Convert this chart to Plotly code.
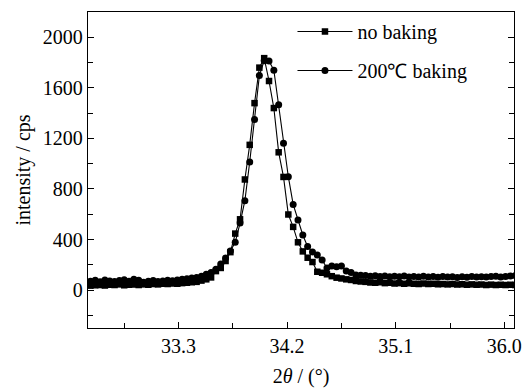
import plotly.graph_objects as go

two_theta = [32.57, 32.61, 32.65, 32.69, 32.73, 32.77, 32.81, 32.85, 32.89, 32.93,
             32.97, 33.01, 33.05, 33.09, 33.13, 33.17, 33.21, 33.25, 33.29, 33.33,
             33.37, 33.41, 33.45, 33.49, 33.53, 33.57, 33.61, 33.65, 33.69, 33.73,
             33.77, 33.81, 33.85, 33.89, 33.93, 33.97, 34.01, 34.05, 34.09, 34.13,
             34.17, 34.21, 34.25, 34.29, 34.33, 34.37, 34.41, 34.45, 34.49, 34.53,
             34.57, 34.61, 34.65, 34.69, 34.73, 34.77, 34.81, 34.85, 34.89, 34.93,
             34.97, 35.01, 35.05, 35.09, 35.13, 35.17, 35.21, 35.25, 35.29, 35.33,
             35.37, 35.41, 35.45, 35.49, 35.53, 35.57, 35.61, 35.65, 35.69, 35.73,
             35.77, 35.81, 35.85, 35.89, 35.93, 35.97, 36.01, 36.05, 36.09]

no_baking = [35, 38, 40, 36, 42, 40, 45, 38, 42, 44, 40, 45, 42, 48, 45, 50, 48, 52, 50, 55,
             58, 62, 65, 75,
             85, 100, 150, 175, 230, 300, 447, 560, 875, 1149, 1479, 1760, 1835, 1654, 1440, 1090,
             895, 598, 500, 378, 306, 256, 222, 145, 137, 125, 110, 98, 92, 85, 80, 72,
             68, 65, 60, 58, 62, 55, 58, 52, 55, 50, 54, 50, 48, 52, 48, 50, 46, 48, 45, 48,
             44, 46, 42, 45, 42, 44, 40, 43, 40, 42, 40, 42, 40]

baking_200 = [70, 78, 65, 80, 72, 68, 75, 82, 70, 85, 78, 62, 70, 75, 68, 72, 78, 74, 80, 85,
              90, 95, 100, 110,
              125, 140, 165, 206, 254, 310, 378, 530, 707, 1013, 1350, 1697, 1815, 1812, 1739, 1466,
              1162, 897, 678, 555, 436, 344, 302, 278, 238, 175, 190, 185, 190, 150, 140, 120,
              118, 115, 110, 114, 108, 112, 106, 110, 105, 112, 104, 108, 103, 110, 104, 107,
              102, 108, 103, 106, 100, 105, 102, 108, 103, 106, 104, 108, 110, 104, 108, 112, 115]

x_tickvals = [33.3, 34.2, 35.1, 36.0]
x_ticktext = ["33.3", "34.2", "35.1", "36.0"]
y_tickvals = [0, 400, 800, 1200, 1600, 2000]

font_family = "Liberation Serif, Times New Roman, serif"

fig = go.Figure()
fig.add_trace(go.Scatter(
    x=two_theta, y=no_baking, mode="lines+markers", name="no baking",
    legendgroup="a",
    line=dict(color="black", width=1.1),
    marker=dict(symbol="square", size=6.5, color="black"),
))
fig.add_trace(go.Scatter(
    x=two_theta, y=baking_200, mode="lines+markers", name="200℃ baking",
    legendgroup="b",
    line=dict(color="black", width=1.1),
    marker=dict(symbol="circle", size=7, color="black"),
))

axis_common = dict(
    showline=True, linecolor="black", linewidth=1.3, showgrid=False, zeroline=False,
    ticks="inside", ticklen=6, tickwidth=1.2, tickcolor="black",
    tickfont=dict(family=font_family, size=20, color="black"),
    automargin=False,
)

fig.update_xaxes(
    **axis_common, range=[32.55, 36.08], tickvals=x_tickvals, ticktext=x_ticktext,
    mirror=True,
    minor=dict(ticks="inside", ticklen=5, tickwidth=1.2, tickcolor="black",
               tick0=32.85, dtick=0.45),
    title=dict(text="2<i>θ</i> / (°)", font=dict(family=font_family, size=20, color="black"),
               standoff=12),
)
fig.update_yaxes(
    **axis_common, range=[-300, 2200], tickvals=y_tickvals, mirror="ticks",
    minor=dict(ticks="inside", ticklen=5, tickwidth=1.2, tickcolor="black",
               tick0=-200, dtick=400),
    title=dict(text="intensity / cps", font=dict(family=font_family, size=20, color="black"),
               standoff=6),
)

fig.update_layout(
    width=524, height=389,
    margin=dict(l=88, r=10, t=12, b=61),
    paper_bgcolor="white", plot_bgcolor="white",
    showlegend=True,
    legend=dict(x=0.48, y=1.0, xanchor="left", yanchor="top",
                bgcolor="rgba(0,0,0,0)", borderwidth=0, itemwidth=55,
                traceorder="grouped", tracegroupgap=10,
                font=dict(family=font_family, size=20, color="black")),
)

fig.write_html("out.html")
